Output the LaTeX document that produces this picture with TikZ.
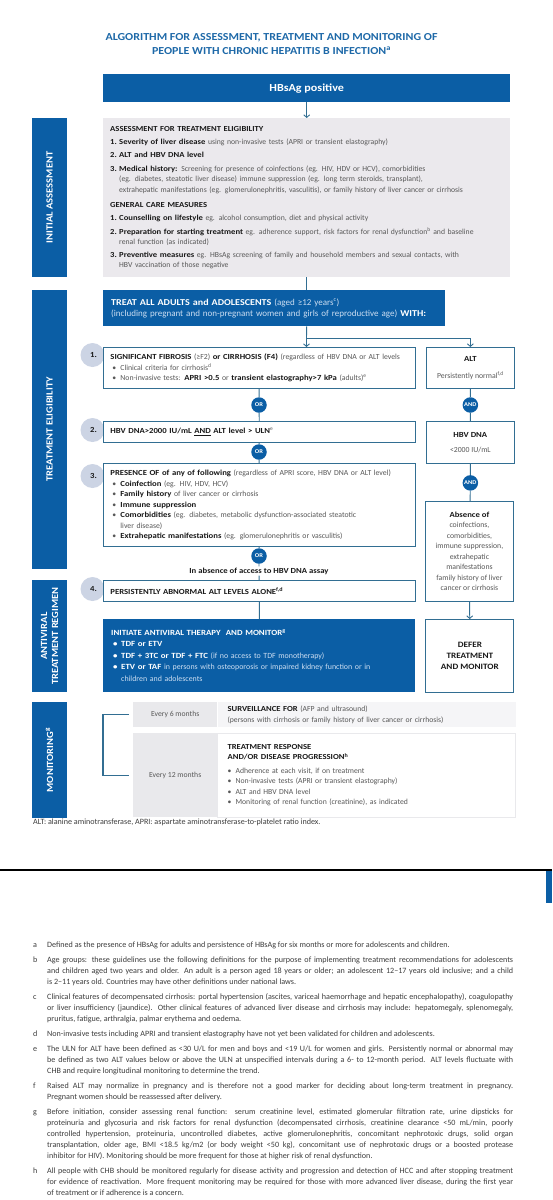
\documentclass[tikz,border=0pt]{standalone}
\usepackage{fontspec}
\setmainfont{Carlito}[BoldFeatures={FakeStretch=1.12}]
\usetikzlibrary{positioning,arrows.meta,calc}
\definecolor{whoblue}{RGB}{11,94,165}
\definecolor{titleblue}{RGB}{30,105,168}
\definecolor{lineblue}{RGB}{50,110,146}
\definecolor{numgray}{RGB}{204,212,228}
\definecolor{panelgray}{RGB}{235,233,237}
\definecolor{cellgray}{RGB}{233,233,236}
\definecolor{cellpale}{RGB}{245,245,247}
\definecolor{greytext}{RGB}{88,88,88}
\definecolor{darktext}{RGB}{25,25,25}
\definecolor{paleblue}{RGB}{205,222,242}
\definecolor{notegray}{RGB}{60,60,60}

\newcommand\boxfont{\fontsize{7.7}{10.5}\selectfont}
\newcommand\critfont{\fontsize{7.75}{10.5}\selectfont}
\newcommand\notefont{\fontsize{8.1}{11}\selectfont}
\newcommand\sidefont{\fontsize{9.4}{11}\selectfont\bfseries}
\newcommand\bk[1]{\textbf{\color{darktext}#1}}
\newcommand\lb[1]{{\mdseries\color{paleblue}#1}}
\newlength\itmw \setlength\itmw{9pt}
\newcommand\itm[1]{\makebox[\itmw][l]{\bk{#1}}}
\newcommand\bul{\makebox[8pt][l]{\textbullet}}
\newcommand\jl[1]{\makebox[466pt][s]{#1}}

\begin{document}
\begin{tikzpicture}[x=1pt,y=-1pt,every node/.style={inner sep=0pt},
  conn/.style={draw=lineblue,line width=0.9pt},
  arr/.style={-{Straight Barb[length=2.6pt,width=6pt]}},
  bluebox/.style={fill=whoblue,text=white,anchor=north west},
  linebox/.style={draw=lineblue,line width=0.9pt,fill=white,anchor=north west,font=\critfont,text=greytext},
  sidebar/.style={fill=whoblue,text=white,rotate=90,align=center,minimum height=35pt,font=\sidefont},
  numdot/.style={circle,fill=numgray,minimum size=24pt,font=\critfont\bfseries,text=darktext},
  ordot/.style={circle,fill=whoblue,text=white,minimum size=15.5pt,font=\fontsize{5.8}{6}\selectfont\bfseries},
  cell/.style={anchor=north west,font=\boxfont,text=greytext}]
  \useasboundingbox (0,0) rectangle (552,1200);

  % title and start
  \node[font=\fontsize{10.7}{14}\selectfont\bfseries,text=titleblue,align=center] (title) at (271.5,44)
    {ALGORITHM FOR ASSESSMENT, TREATMENT AND MONITORING OF\\PEOPLE WITH CHRONIC HEPATITIS B INFECTION\textsuperscript{a}};
  \node[bluebox,minimum width=407pt,minimum height=28pt,font=\fontsize{10.8}{12}\selectfont\bfseries] (hbsag) at (103,74) {HBsAg positive};

  % side bars
  \node[sidebar,minimum width=159pt] (sideassess) at (49.5,197.5) {INITIAL ASSESSMENT};
  \node[sidebar,minimum width=279pt] (sideelig) at (49.5,429.5) {TREATMENT ELIGIBILITY};
  \node[sidebar,minimum width=112pt] (sideregimen) at (49.5,636) {ANTIVIRAL\\TREATMENT REGIMEN};
  \node[sidebar,minimum width=116pt] (sidemonitor) at (49.5,760) {MONITORING\textsuperscript{g}};

  % initial assessment
  \node[anchor=north west,fill=panelgray,minimum width=407pt,minimum height=159pt,inner xsep=7pt,text width=393pt,align=left,font=\boxfont,text=greytext] (assess) at (103,118) {%
    \bk{ASSESSMENT FOR TREATMENT ELIGIBILITY}\\[2.5pt]
    \itm{1.}\bk{Severity of liver disease} using non-invasive tests (APRI or transient elastography)\\[2.5pt]
    \itm{2.}\bk{ALT and HBV DNA level}\\[3pt]
    \itm{3.}\bk{Medical history:} Screening for presence of coinfections (eg. HIV, HDV or HCV), comorbidities\\
    \hspace*{\itmw}(eg. diabetes, steatotic liver disease) immune suppression (eg. long term steroids, transplant),\\
    \hspace*{\itmw}extrahepatic manifestations (eg. glomerulonephritis, vasculitis), or family history of liver cancer or cirrhosis\\[5pt]
    \bk{GENERAL CARE MEASURES}\\[2.5pt]
    \itm{1.}\bk{Counselling on lifestyle} eg. alcohol consumption, diet and physical activity\\[3pt]
    \itm{2.}\bk{Preparation for starting treatment} eg. adherence support, risk factors for renal dysfunction\textsuperscript{b} and baseline\\
    \hspace*{\itmw}renal function (as indicated)\\[2pt]
    \itm{3.}\bk{Preventive measures} eg. HBsAg screening of family and household members and sexual contacts, with\\
    \hspace*{\itmw}HBV vaccination of those negative};

  \node[bluebox,minimum width=342pt,minimum height=36pt,inner xsep=8pt,text width=326pt,align=left,font=\fontsize{9}{11}\selectfont\bfseries] (treat) at (103,290)
    {TREAT ALL ADULTS and ADOLESCENTS \lb{(aged ≥12 years\textsuperscript{c})}\\
     \lb{(including pregnant and non-pregnant women and girls of reproductive age)} WITH:};

  % eligibility criteria
  \node[numdot] (num1) at (92.5,355) {\hspace*{2pt}1.};
  \node[numdot] (num2) at (92.5,430) {\hspace*{2pt}2.};
  \node[numdot] (num3) at (92.5,476) {\hspace*{2pt}3.};
  \node[numdot] (num4) at (92.5,589) {\hspace*{2pt}4.};

  \node[linebox,minimum width=312pt,minimum height=41pt,inner xsep=7pt,text width=298pt,align=left] (crit1) at (103,347) {%
    \makebox[298pt][l]{\bk{SIGNIFICANT FIBROSIS} (≥F2) \bk{or CIRRHOSIS (F4)} (regardless of HBV DNA or ALT levels}\\
    \hspace*{2pt}\bul Clinical criteria for cirrhosis\textsuperscript{d}\\
    \hspace*{2pt}\bul Non-invasive tests: \bk{APRI >0.5} or \bk{transient elastography>7 kPa} (adults)\textsuperscript{e}};
  \node[ordot] (or1) at (259,405) {OR};
  \node[linebox,minimum width=312pt,minimum height=21pt,inner xsep=7pt,text width=298pt,align=left] (crit2) at (103,421)
    {\bk{HBV DNA>2000 IU/mL \underline{AND} ALT level > ULN}\textsuperscript{e}};
  \node[ordot] (or2) at (259,452) {OR};
  \node[linebox,minimum width=312pt,minimum height=83pt,inner xsep=7pt,text width=298pt,align=left] (crit3) at (103,463) {%
    \makebox[298pt][l]{\bk{PRESENCE OF of any of following} (regardless of APRI score, HBV DNA or ALT level)}\\
    \hspace*{2pt}\bul\bk{Coinfection} (eg. HIV, HDV, HCV)\\
    \hspace*{2pt}\bul\bk{Family history} of liver cancer or cirrhosis\\
    \hspace*{2pt}\bul\bk{Immune suppression}\\
    \hspace*{2pt}\bul\bk{Comorbidities} (eg. diabetes, metabolic dysfunction-associated steatotic\\
    \hspace*{10pt}liver disease)\\
    \hspace*{2pt}\bul\bk{Extrahepatic manifestations} (eg. glomerulonephritis or vasculitis)};
  \node[ordot] (or3) at (259,556) {OR};
  \node[fill=white,inner ysep=1pt,font=\critfont\bfseries,text=darktext] (noassay) at (259,571) {In absence of access to HBV DNA assay};
  \node[linebox,minimum width=312pt,minimum height=21pt,inner xsep=7pt,text width=298pt,align=left] (crit4) at (103,580)
    {\bk{PERSISTENTLY ABNORMAL ALT LEVELS ALONE\textsuperscript{f,d}}};

  \node[bluebox,minimum width=312pt,minimum height=73pt,inner xsep=8pt,text width=296pt,align=left,font=\fontsize{7.9}{11.5}\selectfont\bfseries] (initiate) at (103,619) {%
    INITIATE ANTIVIRAL THERAPY\ \ AND MONITOR\textsuperscript{g}\\
    \hspace*{2pt}\bul TDF or ETV\\
    \hspace*{2pt}\bul TDF + 3TC or TDF + FTC \lb{(if no access to TDF monotherapy)}\\
    \hspace*{2pt}\bul ETV or TAF \lb{in persons with osteoporosis or impaired kidney function or in}\\
    \hspace*{10pt}\lb{children and adolescents}};

  % no treatment branch
  \node[linebox,minimum width=88pt,minimum height=41pt,align=center,anchor=north west] (alt) at ([xshift=10pt]crit1.north east) {\bk{ALT}\\[7pt]Persistently normal\textsuperscript{f,d}};
  \node[ordot] (and1) at (alt.south |- or1) {AND};
  \node[linebox,minimum width=88pt,minimum height=42pt,align=center,anchor=north west] (hbvdna) at ([xshift=10pt]crit2.north east) {\bk{HBV DNA}\\[4pt]<2000 IU/mL};
  \node[ordot] (and2) at ($(alt.south)+(0,94)$) {AND};
  \node[linebox,minimum width=88pt,minimum height=100pt,align=center,anchor=north west] (absent) at (425,501) {%
    \bk{Absence of}\\coinfections,\\comorbidities,\\immune suppression,\\extrahepatic\\manifestations\\family history of liver\\cancer or cirrhosis};
  \node[linebox,minimum width=88pt,minimum height=73pt,align=center,anchor=north west,font=\fontsize{8.2}{11}\selectfont\bfseries,text=darktext] (defer) at ([xshift=10pt]initiate.north east) {DEFER\\TREATMENT\\AND MONITOR};

  % connectors
  \coordinate (fork) at (306.5,338);
  \draw[conn,arr] (hbsag.south) -- (assess.north);
  \draw[conn] (assess.south) -- (assess.south |- treat.north);
  \draw[conn] (assess.south |- treat.south) -- (fork);
  \draw[conn,arr] (fork) -| (alt.north);
  \draw[conn,arr] (fork) -- (fork |- crit1.north);
  \draw[conn] (crit1) -- (or1) -- (crit2);
  \draw[conn] (crit2) -- (or2) -- (crit3);
  \draw[conn] (crit3) -- (or3) -- (noassay) -- (crit4);
  \draw[conn] (crit4) -- (initiate);
  \draw[conn] (alt) -- (and1) -- (hbvdna) -- (and2) -- (absent);
  \draw[conn,arr] (absent) -- (defer);

  % monitoring
  \node[cell,fill=cellgray,minimum width=84pt,minimum height=25pt] (six) at (133,702) {Every 6 months};
  \node[cell,fill=cellpale,minimum width=298pt,minimum height=25pt,inner xsep=10pt,text width=278pt,align=left] (surv) at (six.north east)
    {\bk{SURVEILLANCE FOR} (AFP and ultrasound)\\(persons with cirrhosis or family history of liver cancer or cirrhosis)};
  \node[cell,fill=cellgray,minimum width=84pt,minimum height=84pt] (twelve) at (133,733) {Every 12 months};
  \node[cell,fill=white,draw=cellgray,minimum width=298pt,minimum height=84pt,inner xsep=10pt,text width=278pt,align=left] (resp) at (twelve.north east) {%
    \bk{TREATMENT RESPONSE}\\\bk{AND/OR DISEASE PROGRESSION\textsuperscript{h}}\\[3pt]
    \bul Adherence at each visit, if on treatment\\
    \bul Non-invasive tests (APRI or transient elastography)\\
    \bul ALT and HBV DNA level\\
    \bul Monitoring of renal function (creatinine), as indicated};
  \draw[lineblue,line width=1.2pt] ([xshift=-4pt]six.west) -- ++(-26,0) |- ([xshift=-4pt]twelve.west);

  \node[anchor=base west,font=\notefont,text=notegray] (abbrev) at (33,824)
    {ALT: alanine aminotransferase, APRI: aspartate aminotransferase-to-platelet ratio index.};

  % page break
  \draw[line width=1.6pt] (0,870) -- (552,870);
  \fill[whoblue] (546,871) rectangle (552,903);

  % footnotes
  \node[anchor=north west,font=\notefont,text=notegray] (notes) at (33,939.3) {%
    \begin{tabular}{@{}p{14pt}@{}l@{}}
    a & Defined as the presence of HBsAg for adults and persistence of HBsAg for six months or more for adolescents and children.\\[4pt]
    b & \jl{Age groups: these guidelines use the following definitions for the purpose of implementing treatment recommendations for adolescents}\\
      & \jl{and children aged two years and older. An adult is a person aged 18 years or older; an adolescent 12–17 years old inclusive; and a child}\\
      & is 2–11 years old. Countries may have other definitions under national laws.\\[4pt]
    c & \jl{Clinical features of decompensated cirrhosis: portal hypertension (ascites, variceal haemorrhage and hepatic encephalopathy), coagulopathy}\\
      & \jl{or liver insufficiency (jaundice). Other clinical features of advanced liver disease and cirrhosis may include: hepatomegaly, splenomegaly,}\\
      & pruritus, fatigue, arthralgia, palmar erythema and oedema.\\[4pt]
    d & Non-invasive tests including APRI and transient elastography have not yet been validated for children and adolescents.\\[4pt]
    e & \jl{The ULN for ALT have been defined as <30 U/L for men and boys and <19 U/L for women and girls. Persistently normal or abnormal may}\\
      & \jl{be defined as two ALT values below or above the ULN at unspecified intervals during a 6- to 12-month period. ALT levels fluctuate with}\\
      & CHB and require longitudinal monitoring to determine the trend.\\[4pt]
    f & \jl{Raised ALT may normalize in pregnancy and is therefore not a good marker for deciding about long-term treatment in pregnancy.}\\
      & Pregnant women should be reassessed after delivery.\\[4pt]
    g & \jl{Before initiation, consider assessing renal function: serum creatinine level, estimated glomerular filtration rate, urine dipsticks for}\\
      & \jl{proteinuria and glycosuria and risk factors for renal dysfunction (decompensated cirrhosis, creatinine clearance <50 mL/min, poorly}\\
      & \jl{controlled hypertension, proteinuria, uncontrolled diabetes, active glomerulonephritis, concomitant nephrotoxic drugs, solid organ}\\
      & \jl{transplantation, older age, BMI <18.5 kg/m2 (or body weight <50 kg), concomitant use of nephrotoxic drugs or a boosted protease}\\
      & inhibitor for HIV). Monitoring should be more frequent for those at higher risk of renal dysfunction.\\[4pt]
    h & \jl{All people with CHB should be monitored regularly for disease activity and progression and detection of HCC and after stopping treatment}\\
      & \jl{for evidence of reactivation. More frequent monitoring may be required for those with more advanced liver disease, during the first year}\\
      & of treatment or if adherence is a concern.
    \end{tabular}};
\end{tikzpicture}
\end{document}
